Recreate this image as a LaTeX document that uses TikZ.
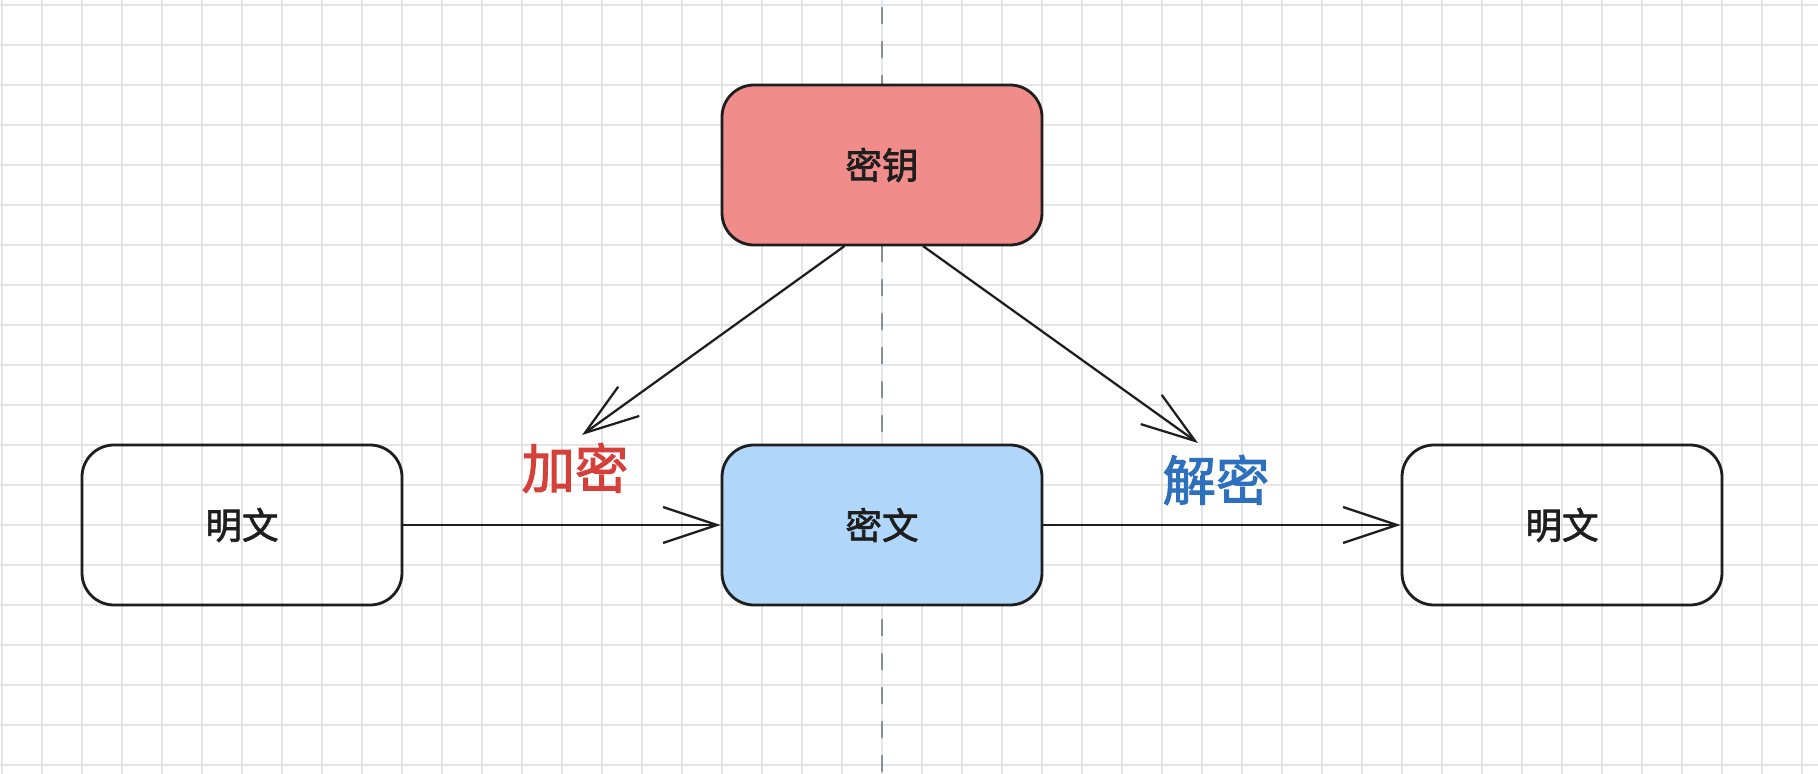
\documentclass[tikz,border=0pt]{standalone}
\usepackage{fontspec}
\setmainfont{Noto Sans CJK SC}
\newfontfamily\medfont{Noto Sans CJK SC}[FakeBold=2]
\usepackage{tikz}
\usetikzlibrary{positioning, arrows.meta}
\definecolor{gridgray}{RGB}{229,229,229}
\definecolor{axisgray}{RGB}{134,142,150}
\definecolor{keyred}{RGB}{240,140,138}
\definecolor{cipherblue}{RGB}{176,215,250}
\definecolor{encred}{RGB}{214,64,58}
\definecolor{decblue}{RGB}{45,112,190}
\definecolor{inkblack}{RGB}{30,30,30}
\tikzstyle{box} = [rectangle, rounded corners=0.8cm, minimum width=8cm, minimum height=4cm, text centered, draw=inkblack, line width=2pt, text=inkblack, font=\medfont\fontsize{26}{30}\selectfont]
\tikzstyle{keybox} = [box, fill=keyred]
\tikzstyle{cipherbox} = [box, fill=cipherblue]
\tikzstyle{arrow} = [line width=1.6pt, draw=inkblack, line cap=round, -{Straight Barb[length=1.35cm, width=0.9cm]}]
\tikzstyle{steplabel} = [font=\medfont\fontsize{38}{44}\selectfont]
\tikzstyle{every node}=[node distance = 9cm]

\begin{document}
\begin{tikzpicture}
			\clip (0,0) rectangle (45.45,-19.35);
			\fill[white] (0,0) rectangle (45.45,-19.35);
			%背景网格与中线
			\draw[gridgray, line width=1.4pt, xshift=0.05cm, yshift=-0.125cm] (-1,-21) grid (46,1);
			\draw[axisgray, line width=2pt, line cap=round, dash pattern=on 0.38cm off 0.47cm, dash phase=-0.2cm] (22.05,0) -- (22.05,-19.35);

			%定义具体形状
			\node (key) [keybox] at (22.05,-4.125) {密钥};
			\node (cipher) [cipherbox, below of=key] {密文};
			\node (plain1) [box, node distance=16cm, left of=cipher] {明文};
			\node (plain2) [box, node distance=17cm, right of=cipher] {明文};
			\coordinate (enc) at (14.55,-10.875);
			\coordinate (dec) at (29.95,-11.075);
			\node (enclabel) [steplabel, text=encred] at (14.375,-11.7) {加密};
			\node (declabel) [steplabel, text=decblue] at (30.4,-12) {解密};

			%连接具体形状
			\draw [arrow](key.245) -- (enc);
			\draw [arrow](key.297) -- (dec);
			\draw [arrow](plain1) -- (cipher);
			\draw [arrow](cipher) -- (plain2);
		\end{tikzpicture}
\end{document}
